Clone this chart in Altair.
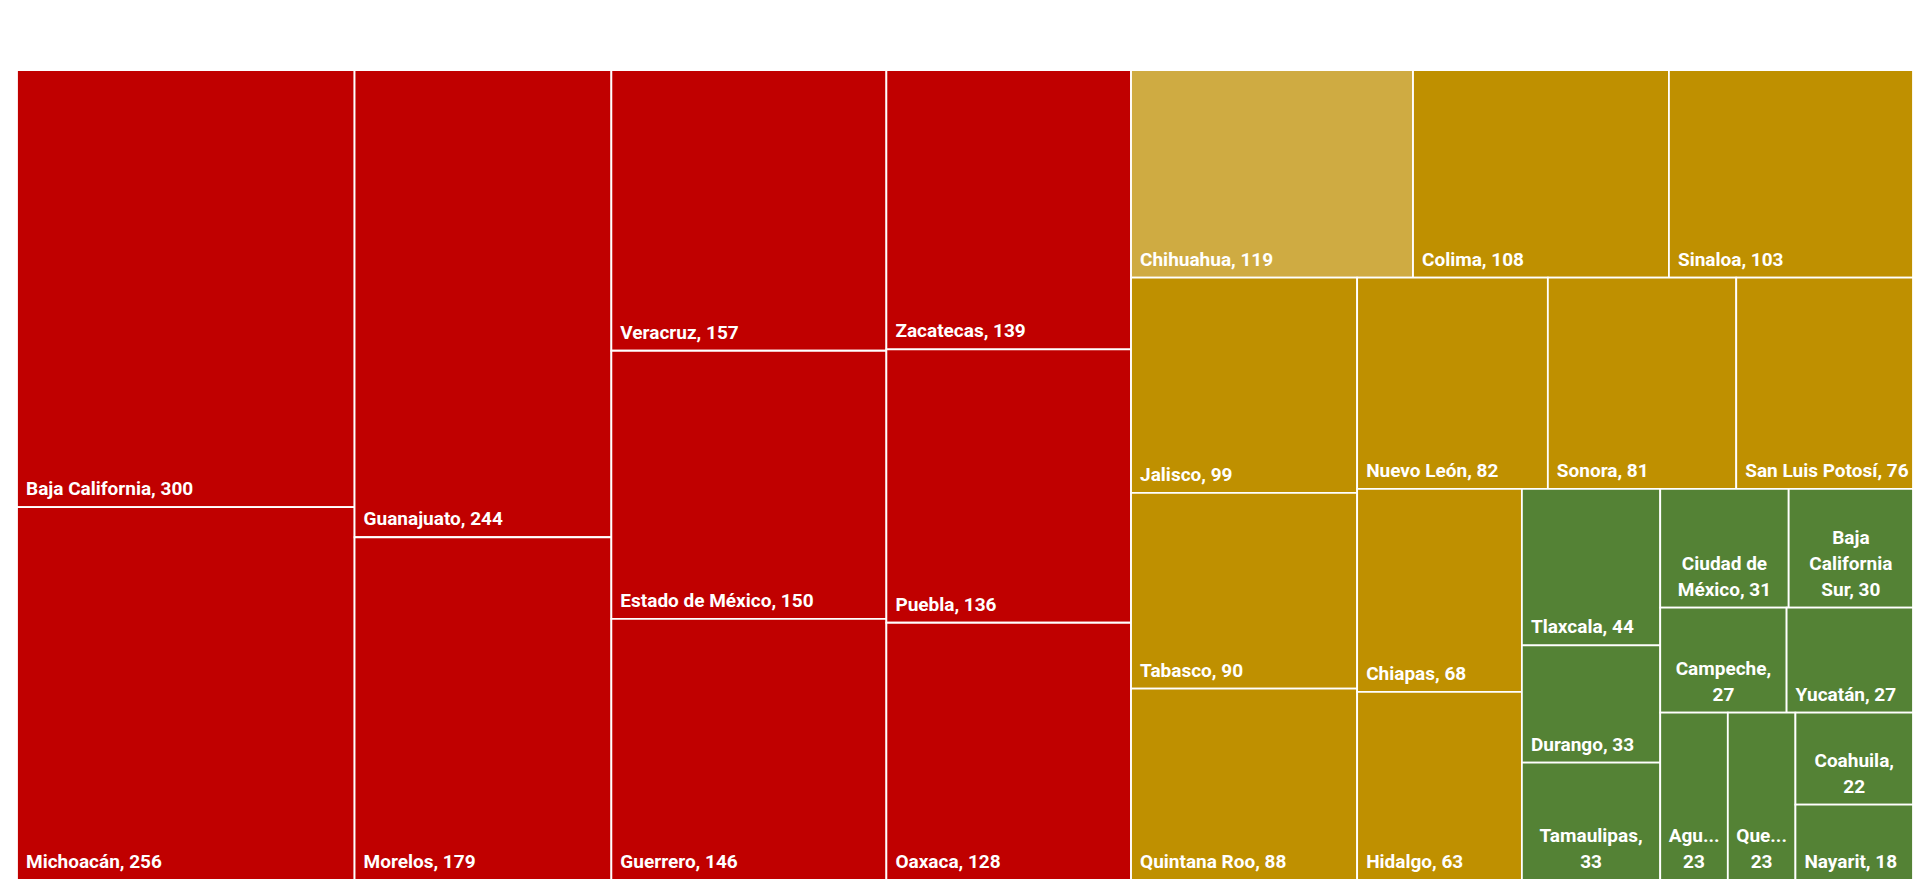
import altair as alt
import pandas as pd

# ---- data ----
estados = ["Baja California", "Michoacán", "Guanajuato", "Morelos", "Veracruz",
           "Estado de México", "Guerrero", "Zacatecas", "Puebla", "Oaxaca",
           "Chihuahua", "Colima", "Sinaloa", "Jalisco", "Tabasco", "Quintana Roo",
           "Nuevo León", "Sonora", "San Luis Potosí", "Chiapas", "Hidalgo",
           "Tlaxcala", "Durango", "Tamaulipas", "Ciudad de México",
           "Baja California Sur", "Campeche", "Yucatán", "Aguascalientes",
           "Querétaro", "Coahuila", "Nayarit"]
casos = [300, 256, 244, 179, 157, 150, 146, 139, 136, 128,
         119, 108, 103, 99, 90, 88, 82, 81, 76, 68, 63,
         44, 33, 33, 31, 30, 27, 27, 23, 23, 22, 18]
grupo = ["alto"] * 10 + ["destacado"] + ["medio"] * 10 + ["bajo"] * 11

# labels that wrap in the reference (text content only)
etiquetas_envueltas = {
    "Ciudad de México": "Ciudad de\nMéxico, 31",
    "Baja California Sur": "Baja\nCalifornia\nSur, 30",
    "Campeche": "Campeche,\n27",
    "Tamaulipas": "Tamaulipas,\n33",
    "Aguascalientes": "Agu...\n23",
    "Querétaro": "Que...\n23",
    "Coahuila": "Coahuila,\n22",
}

grupos_dom = ["alto", "destacado", "medio", "bajo"]
grupos_col = ["#C00000", "#CFAB42", "#BF9000", "#548235"]

# ---- treemap layout (squarified strips, Excel-like target ratio) ----
W, H = 1904.0, 810.0


def treemap(vals, x, y, w, h, t=1.265):
    total = float(sum(vals))
    k = w * h / total
    areas = [v * k for v in vals]
    out = []
    i = 0
    while i < len(areas):
        vertical = w >= h
        side = h if vertical else w

        def worst(row):
            thick = sum(row) / side
            res = 0.0
            for a in row:
                r = (a / thick) / thick
                res = max(res, r / t, t / r)
            return res

        row = [areas[i]]
        j = i + 1
        while j < len(areas) and worst(row + [areas[j]]) <= worst(row):
            row.append(areas[j])
            j += 1
        thick = sum(row) / side
        off = 0.0
        for a in row:
            along = a / thick
            if vertical:
                out.append((x, y + off, x + thick, y + off + along))
            else:
                out.append((x + off, y, x + off + along, y + thick))
            off += along
        if vertical:
            x += thick
            w -= thick
        else:
            y += thick
            h -= thick
        i = j
    return out


rects = treemap(casos, 0.0, 0.0, W, H)
rows = []
for e, v, g, (x0, y0, x1, y1) in zip(estados, casos, grupo, rects):
    etiqueta = etiquetas_envueltas.get(e, f"{e}, {v}")
    rows.append({
        "estado": e, "casos": v, "grupo": g,
        "x0": x0, "x1": x1, "y0": y0, "y1": y1, "xc": (x0 + x1) / 2,
        "etiqueta": etiqueta,
        "nlineas": etiqueta.count("\n") + 1,
    })
df = pd.DataFrame(rows)

xs = alt.Scale(domain=[0, W], nice=False, zero=False)
ys = alt.Scale(domain=[0, H], nice=False, zero=False, reverse=True)

base = alt.Chart(df)

celdas = base.mark_rect(stroke="white", strokeWidth=1.8).encode(
    x=alt.X("x0:Q", scale=xs, axis=None),
    x2="x1:Q",
    y=alt.Y("y0:Q", scale=ys, axis=None),
    y2="y1:Q",
    color=alt.Color("grupo:N", scale=alt.Scale(domain=grupos_dom, range=grupos_col), legend=None),
    tooltip=["estado:N", "casos:Q"],
)

FONT = "Roboto"
FS = 19
LH = 26

texto_simple = base.transform_filter("datum.nlineas == 1").mark_text(
    align="left", baseline="alphabetic", dx=9, dy=-12,
    font=FONT, fontSize=FS, fontWeight="bold", color="white",
).encode(
    x=alt.X("x0:Q", scale=xs, axis=None),
    y=alt.Y("y1:Q", scale=ys, axis=None),
    text="etiqueta:N",
)

capas = [celdas, texto_simple]
for n in (2, 3):
    capas.append(
        base.transform_filter(f"datum.nlineas == {n}").mark_text(
            align="center", baseline="alphabetic", dy=-12 - (n - 1) * LH,
            lineBreak="\n", lineHeight=LH,
            font=FONT, fontSize=FS, fontWeight="bold", color="white",
        ).encode(
            x=alt.X("xc:Q", scale=xs, axis=None),
            y=alt.Y("y1:Q", scale=ys, axis=None),
            text="etiqueta:N",
        )
    )

chart = alt.layer(*capas).properties(
    width=1896, height=810,
    autosize=alt.AutoSizeParams(type="none"),
    padding={"left": 9, "top": 62, "right": 0, "bottom": 5},
).configure_view(stroke=None).configure(background="white")

chart.save("out.html", embed_options={"renderer": "svg", "actions": False})
